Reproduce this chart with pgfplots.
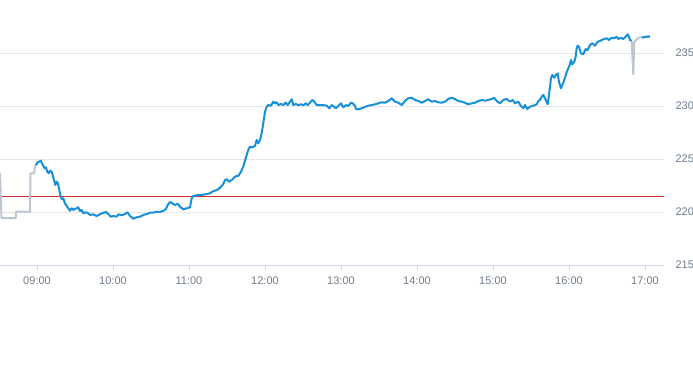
\documentclass[border=0pt]{standalone}
\usepackage{pgfplots}
\pgfplotsset{compat=1.18}
\usepackage{fontspec}
\setmainfont{Liberation Sans}
\definecolor{lineblue}{RGB}{22,144,216}
\definecolor{linegrey}{RGB}{188,199,210}
\definecolor{gridgrey}{RGB}{230,230,230}
\definecolor{axisgrey}{RGB}{204,214,235}
\definecolor{labelgrey}{RGB}{112,124,140}
\begin{document}
\begin{tikzpicture}[x=1pt,y=1pt]
\useasboundingbox (0,0) rectangle (693,365);
\begin{axis}[
  at={(0pt,100pt)}, anchor=south west,
  width=664pt, height=265pt, scale only axis,
  xmin=8.513, xmax=17.25, ymin=215, ymax=240,
  axis x line*=bottom, axis y line*=right,
  x axis line style={draw=axisgrey, line width=0.8pt, -},
  y axis line style={draw=none},
  xtick={9,10,11,12,13,14,15,16,17},
  xticklabels={09:00,10:00,11:00,12:00,13:00,14:00,15:00,16:00,17:00},
  ytick={215,220,225,230,235},
  tick align=outside,
  major tick length=5pt,
  xtick style={draw=axisgrey, line width=0.8pt},
  ytick style={draw=none},
  ymajorgrids, xmajorgrids=false,
  major grid style={draw=gridgrey, line width=0.8pt},
  /pgf/number format/assume math mode=true,
  ticklabel style={font=\fontsize{11}{13}\selectfont, text=labelgrey},
  xticklabel style={anchor=center, yshift=-11pt},
  yticklabel style={anchor=west, xshift=3pt},
  clip=true,
]
\addplot[color={rgb,255:red,214;green,40;blue,40}, line width=1pt] coordinates {(8.513,221.42) (17.25,221.42)};
% grey pre-open and post-close
\addplot[color=linegrey, line width=2pt, line join=round] coordinates {
(8.513,223.68) (8.533,219.43) (8.720,219.43) (8.724,220.03) (8.908,220.03)
(8.914,223.65) (8.964,223.65) (8.974,224.43) (8.987,224.43) (9.009,224.69)
};
\addplot[color=linegrey, line width=2pt, line join=round] coordinates {
(16.825,236.16) (16.846,232.99) (16.859,236.07) (16.912,236.44) (17.066,236.58)
};
% blue main session
\addplot[color=lineblue, line width=2pt, line join=round] coordinates {
(8.987,224.43) (9.009,224.69) (9.030,224.75) (9.049,224.84) (9.066,224.59)
(9.083,224.34) (9.101,224.12) (9.118,224.22) (9.135,223.80) (9.154,223.65)
(9.171,223.90) (9.193,223.80) (9.206,223.49) (9.224,223.02) (9.241,222.55)
(9.259,222.86) (9.276,222.71) (9.293,222.08) (9.312,221.44) (9.329,221.20)
(9.346,221.29) (9.368,220.82) (9.391,220.57) (9.412,220.35) (9.434,220.12)
(9.456,220.35) (9.478,220.19) (9.500,220.31) (9.522,220.35) (9.543,220.44)
(9.566,220.09) (9.588,220.19) (9.609,219.88) (9.645,219.97) (9.675,219.88)
(9.697,219.72) (9.741,219.78) (9.785,219.62) (9.829,219.78) (9.872,219.93)
(9.908,220.00) (9.938,219.81) (9.970,219.56) (10.004,219.62) (10.049,219.56)
(10.070,219.78) (10.114,219.69) (10.158,219.81) (10.193,219.97) (10.224,219.62)
(10.267,219.37) (10.312,219.50) (10.355,219.56) (10.399,219.72) (10.443,219.81)
(10.487,219.93) (10.530,219.93) (10.575,220.03) (10.618,220.00) (10.662,220.12)
(10.693,220.25) (10.727,220.75) (10.750,220.94) (10.780,220.82) (10.816,220.66)
(10.851,220.78) (10.881,220.50) (10.925,220.25) (10.970,220.35) (11.013,220.44)
(11.035,221.29) (11.056,221.51) (11.101,221.58) (11.145,221.60) (11.188,221.63)
(11.233,221.70) (11.276,221.76) (11.306,221.92) (11.342,222.01) (11.385,222.14)
(11.421,222.39) (11.451,222.64) (11.474,223.02) (11.500,223.08) (11.526,222.86)
(11.562,223.02) (11.596,223.27) (11.627,223.40) (11.649,223.40) (11.684,223.80)
(11.714,224.27) (11.746,225.07) (11.780,225.85) (11.802,226.16) (11.833,226.10)
(11.868,226.23) (11.891,226.79) (11.912,226.48) (11.934,226.79) (11.956,227.42)
(11.977,228.37) (12.000,229.46) (12.022,229.93) (12.043,230.09) (12.079,230.03)
(12.109,230.41) (12.131,230.25) (12.154,230.35) (12.175,230.09) (12.210,230.19)
(12.241,230.09) (12.272,230.31) (12.299,230.09) (12.329,230.41) (12.351,230.63)
(12.372,230.09) (12.404,230.19) (12.438,230.09) (12.474,230.16) (12.504,230.07)
(12.535,230.25) (12.562,230.09) (12.592,230.31) (12.622,230.57) (12.649,230.41)
(12.680,230.09) (12.724,230.07) (12.767,230.09) (12.812,230.03) (12.846,229.78)
(12.877,230.09) (12.908,229.93) (12.934,229.78) (12.964,230.00) (13.000,230.25)
(13.030,229.88) (13.066,230.09) (13.096,230.00) (13.131,230.31) (13.154,230.25)
(13.184,230.03) (13.197,229.72) (13.227,229.69) (13.272,229.78) (13.316,229.91)
(13.359,230.03) (13.404,230.09) (13.447,230.16) (13.491,230.25) (13.535,230.35)
(13.579,230.31) (13.622,230.47) (13.667,230.73) (13.710,230.41) (13.754,230.31)
(13.799,230.09) (13.842,230.47) (13.885,230.73) (13.930,230.78) (13.974,230.57)
(14.017,230.47) (14.062,230.31) (14.105,230.47) (14.149,230.63) (14.193,230.41)
(14.237,230.47) (14.280,230.35) (14.325,230.31) (14.368,230.41) (14.412,230.66)
(14.456,230.78) (14.500,230.66) (14.543,230.47) (14.588,230.41) (14.631,230.31)
(14.675,230.16) (14.720,230.25) (14.763,230.31) (14.806,230.47) (14.851,230.57)
(14.895,230.50) (14.938,230.57) (14.983,230.66) (15.013,230.78) (15.049,230.47)
(15.092,230.25) (15.135,230.57) (15.180,230.66) (15.224,230.41) (15.259,230.57)
(15.289,230.25) (15.333,230.41) (15.364,230.03) (15.399,229.78) (15.421,230.09)
(15.451,229.72) (15.487,229.93) (15.530,230.03) (15.575,230.16) (15.596,230.47)
(15.618,230.57) (15.641,230.88) (15.662,231.04) (15.688,230.66) (15.720,230.16)
(15.737,231.04) (15.763,232.61) (15.780,232.92) (15.806,232.67) (15.825,232.92)
(15.851,233.08) (15.868,232.29) (15.895,231.67) (15.912,231.98) (15.938,232.45)
(15.964,233.08) (15.991,233.56) (16.009,233.87) (16.026,234.34) (16.043,233.93)
(16.070,234.18) (16.088,234.65) (16.101,235.44) (16.114,235.69) (16.131,235.59)
(16.158,234.97) (16.188,234.88) (16.220,235.38) (16.246,235.28) (16.276,235.75)
(16.306,235.92) (16.342,235.69) (16.377,236.07) (16.408,236.13) (16.430,236.23)
(16.464,236.32) (16.496,236.39) (16.526,236.23) (16.562,236.44) (16.596,236.39)
(16.627,236.54) (16.649,236.32) (16.684,236.44) (16.714,236.32) (16.746,236.54)
(16.772,236.76) (16.789,236.54) (16.802,236.23) (16.825,236.16)
};
\addplot[color=lineblue, line width=2pt, line join=round] coordinates {
(16.960,236.45) (17.000,236.52) (17.066,236.56)
};
\end{axis}
\end{tikzpicture}
\end{document}
